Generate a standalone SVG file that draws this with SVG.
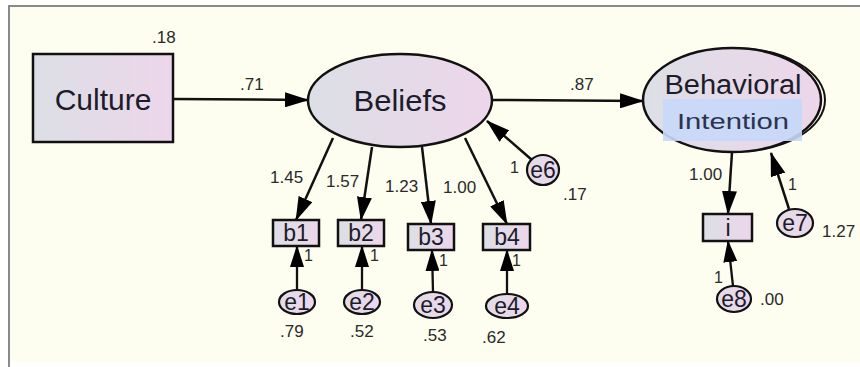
<svg xmlns="http://www.w3.org/2000/svg" width="860" height="367" viewBox="0 0 860 367">
<defs>
<linearGradient id="g" x1="0" y1="0" x2="1" y2="0">
<stop offset="0" stop-color="#dcdfe6"/>
<stop offset="1" stop-color="#edd6ea"/>
</linearGradient>
<linearGradient id="ge" x1="0" y1="0" x2="1" y2="0">
<stop offset="0" stop-color="#e2dde8"/>
<stop offset="1" stop-color="#ecd6ea"/>
</linearGradient>
<marker id="ah" viewBox="0 0 24 15" refX="23" refY="7.5" markerWidth="24" markerHeight="15" orient="auto" markerUnits="userSpaceOnUse">
<path d="M0,0 L24,7.5 L0,15 z" fill="#000"/>
</marker>
<marker id="as" viewBox="0 0 22 14" refX="21" refY="7" markerWidth="22" markerHeight="14" orient="auto" markerUnits="userSpaceOnUse">
<path d="M0,0 L22,7 L0,14 z" fill="#000"/>
</marker>
</defs>
<style>
.box{fill:url(#g);stroke:#111;stroke-width:2.5}
.err{fill:url(#ge);stroke:#111;stroke-width:2.2}
.big{font-family:"Liberation Sans",Arial,sans-serif;fill:#1c1c2a;text-anchor:middle}
.nm{font-family:"Liberation Sans",Arial,sans-serif;font-size:23px;fill:#1c1c2a;text-anchor:middle}
.lb{font-family:"Liberation Sans",Arial,sans-serif;font-size:17px;fill:#2a2a2a}
.one{font-family:"Liberation Sans",Arial,sans-serif;font-size:16px;fill:#2a2a2a}
.c{stroke:#111;stroke-width:2.5;fill:none;marker-end:url(#ah)}
.cs{stroke:#111;stroke-width:2.3;fill:none;marker-end:url(#as)}
</style>
<rect x="0" y="0" width="860" height="367" fill="#ffffff"/>
<rect x="9" y="6" width="860" height="356" fill="#fdfdf0"/>
<path d="M9,367 L9,6 L860,6" fill="none" stroke="#8a8a8a" stroke-width="2"/>

<g id="connectors">
<line class="c" x1="173" y1="99" x2="308" y2="100"/>
<line class="c" x1="492" y1="100" x2="643" y2="101"/>
<line class="c" x1="532" y1="160" x2="487" y2="121"/>
<line class="c" x1="333" y1="138" x2="296" y2="220"/>
<line class="c" x1="372" y1="147" x2="361" y2="220"/>
<line class="c" x1="422" y1="147" x2="431" y2="224"/>
<line class="c" x1="465" y1="138" x2="507" y2="224"/>
<line class="cs" x1="297" y1="290" x2="297" y2="246"/>
<line class="cs" x1="362" y1="290" x2="362" y2="246"/>
<line class="cs" x1="433" y1="292" x2="432" y2="250"/>
<line class="cs" x1="507" y1="294" x2="507" y2="250"/>
<line class="c" x1="732" y1="152" x2="728" y2="214"/>
<line class="c" x1="789" y1="209" x2="771" y2="153"/>
<line class="cs" x1="733" y1="286" x2="728" y2="241"/>
</g>

<g id="culture">
<rect class="box" x="33" y="54" width="140" height="88"/>
<text class="big" x="103" y="110" font-size="30">Culture</text>
<text class="lb" x="152" y="43">.18</text>
</g>

<g id="beliefs">
<ellipse class="box" cx="400" cy="100.5" rx="92" ry="46.5"/>
<text class="big" x="400" y="111" font-size="29" textLength="93" lengthAdjust="spacingAndGlyphs">Beliefs</text>
</g>

<g id="behavioral">
<ellipse cx="736" cy="100" rx="89" ry="51.5" fill="none" stroke="#111" stroke-width="2"/>
<ellipse class="box" cx="732" cy="100" rx="89" ry="52" stroke-width="3"/>
<rect x="663" y="99" width="139" height="42" fill="#c6d8f8" opacity="0.9"/>
<text class="big" x="733" y="94" font-size="27" textLength="137" lengthAdjust="spacingAndGlyphs">Behavioral</text>
<text class="big" x="733" y="129" font-size="22" style="fill:#2b3350" textLength="112" lengthAdjust="spacingAndGlyphs">Intention</text>
</g>

<g id="e6">
<ellipse class="err" cx="543" cy="170" rx="16" ry="15"/>
<text class="nm" x="543" y="178">e6</text>
</g>

<g id="b1">
<rect class="box" x="273" y="220" width="46" height="26"/>
<text class="nm" x="296" y="241">b1</text>
</g>
<g id="b2">
<rect class="box" x="338" y="220" width="46" height="26"/>
<text class="nm" x="361" y="241">b2</text>
</g>
<g id="b3">
<rect class="box" x="408" y="224" width="46" height="26"/>
<text class="nm" x="431" y="245">b3</text>
</g>
<g id="b4">
<rect class="box" x="483" y="224" width="47" height="26"/>
<text class="nm" x="507" y="245">b4</text>
</g>

<g id="e1">
<ellipse class="err" cx="297" cy="302" rx="18" ry="12"/>
<text class="nm" x="297" y="310">e1</text>
</g>
<g id="e2">
<ellipse class="err" cx="362" cy="302" rx="18" ry="12"/>
<text class="nm" x="362" y="310">e2</text>
</g>
<g id="e3">
<ellipse class="err" cx="433" cy="305" rx="19" ry="13"/>
<text class="nm" x="433" y="313">e3</text>
</g>
<g id="e4">
<ellipse class="err" cx="507" cy="306" rx="21" ry="12"/>
<text class="nm" x="507" y="314">e4</text>
</g>

<g id="i">
<rect class="box" x="703" y="214" width="49" height="27"/>
<text class="nm" x="728" y="236">i</text>
</g>
<g id="e7">
<ellipse class="err" cx="795" cy="223" rx="18" ry="14"/>
<text class="nm" x="795" y="231">e7</text>
</g>
<g id="e8">
<ellipse class="err" cx="734" cy="299" rx="17" ry="13"/>
<text class="nm" x="734" y="307">e8</text>
</g>

<g id="labels">
<text class="lb" x="240" y="90">.71</text>
<text class="lb" x="570" y="90">.87</text>
<text class="one" x="510" y="173">1</text>
<text class="lb" x="563" y="200">.17</text>
<text class="lb" x="270" y="183">1.45</text>
<text class="lb" x="326" y="187">1.57</text>
<text class="lb" x="385" y="192">1.23</text>
<text class="lb" x="443" y="193">1.00</text>
<text class="one" x="304" y="261">1</text>
<text class="one" x="370" y="261">1</text>
<text class="one" x="439" y="266">1</text>
<text class="one" x="512" y="266">1</text>
<text class="lb" x="280" y="337">.79</text>
<text class="lb" x="350" y="337">.52</text>
<text class="lb" x="423" y="341">.53</text>
<text class="lb" x="482" y="343">.62</text>
<text class="lb" x="689" y="180">1.00</text>
<text class="one" x="788" y="190">1</text>
<text class="lb" x="822" y="237">1.27</text>
<text class="one" x="714" y="283">1</text>
<text class="lb" x="760" y="305">.00</text>
</g>
</svg>
